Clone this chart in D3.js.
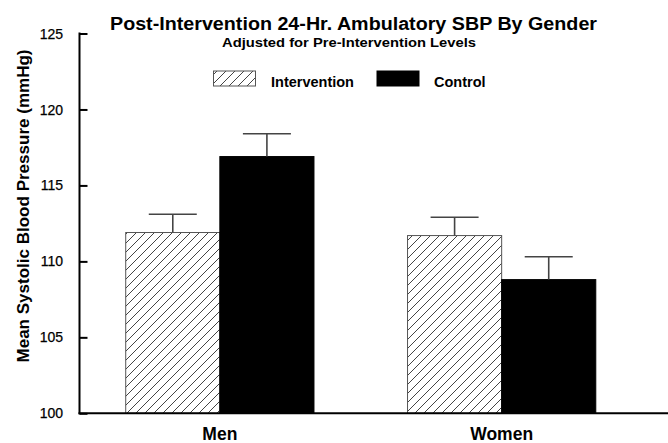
<!DOCTYPE html>
<html>
<head>
<meta charset="utf-8">
<script src="https://cdn.jsdelivr.net/npm/d3@7/dist/d3.min.js"></script>
<style>
  body { margin: 0; background: #fff; }
  svg { display: block; font-family: "Liberation Sans", Arial, Helvetica, sans-serif; }
</style>
</head>
<body>
<svg id="chart" width="668" height="443"></svg>
<script>
// ---- Data ----
const categories = ["Men", "Women"];
const seriesNames = ["Intervention", "Control"];
const interventionMeans = [111.9, 111.7];
const interventionUpper = [113.1, 112.9];
const controlMeans = [116.9, 108.8];
const controlUpper = [118.4, 110.3];
const yTicks = [100, 105, 110, 115, 120, 125];

const title = "Post-Intervention 24-Hr. Ambulatory SBP By Gender";
const subtitle = "Adjusted for Pre-Intervention Levels";
const yTitle = "Mean Systolic Blood Pressure (mmHg)";

const rows = [];
categories.forEach((c, i) => {
  rows.push({cat: c, series: "Intervention", mean: interventionMeans[i], upper: interventionUpper[i]});
  rows.push({cat: c, series: "Control", mean: controlMeans[i], upper: controlUpper[i]});
});

// ---- Layout ----
const svg = d3.select("#chart");
const axisX = 79.5, plotTop = 33.5, plotBottom = 413.3, rightEdge = 668;

const y = d3.scaleLinear().domain([100, 125]).range([plotBottom, plotTop]);
const x = d3.scaleBand().domain(categories).range([axisX, 642]).paddingInner(0.332).paddingOuter(0.164);
const xs = d3.scaleBand().domain(seriesNames).range([0, x.bandwidth()]).padding(0);

// hatch pattern
const defs = svg.append("defs");
const pat = defs.append("pattern")
  .attr("id", "hatch").attr("patternUnits", "userSpaceOnUse")
  .attr("width", 9).attr("height", 9);
pat.append("rect").attr("width", 9).attr("height", 9).attr("fill", "#fff");
pat.append("path").attr("d", "M-1,1 l2,-2 M0,9 l9,-9 M8,10 l2,-2")
  .attr("stroke", "#444").attr("stroke-width", 1);

const fillFor = s => s === "Intervention" ? "url(#hatch)" : "#000";

// bars
const g = svg.append("g");
g.selectAll("rect.bar").data(rows).join("rect")
  .attr("class", "bar")
  .attr("x", d => x(d.cat) + xs(d.series))
  .attr("y", d => y(d.mean))
  .attr("width", xs.bandwidth())
  .attr("height", d => y(100) - y(d.mean))
  .attr("fill", d => fillFor(d.series))
  .attr("stroke", d => d.series === "Intervention" ? "#555" : "#000")
  .attr("stroke-width", 1);

// error bars
const capHalf = 24;
const eb = g.selectAll("g.err").data(rows).join("g").attr("class", "err")
  .attr("stroke", "#444").attr("stroke-width", 1.6);
eb.append("line")
  .attr("x1", d => x(d.cat) + xs(d.series) + xs.bandwidth() / 2)
  .attr("x2", d => x(d.cat) + xs(d.series) + xs.bandwidth() / 2)
  .attr("y1", d => y(d.mean)).attr("y2", d => y(d.upper));
eb.append("line")
  .attr("x1", d => x(d.cat) + xs(d.series) + xs.bandwidth() / 2 - capHalf)
  .attr("x2", d => x(d.cat) + xs(d.series) + xs.bandwidth() / 2 + capHalf)
  .attr("y1", d => y(d.upper)).attr("y2", d => y(d.upper));

// y axis
const yAxis = d3.axisRight(y).tickValues(yTicks).tickSize(8).tickFormat("");
const ya = svg.append("g").attr("transform", `translate(${axisX},0)`).call(yAxis);
ya.select(".domain").remove();
ya.selectAll(".tick line").attr("stroke", "#000").attr("stroke-width", 2);
svg.append("line").attr("x1", axisX).attr("x2", axisX).attr("y1", plotTop - 1).attr("y2", plotBottom + 1)
  .attr("stroke", "#000").attr("stroke-width", 2);
svg.append("line").attr("x1", axisX - 1).attr("x2", rightEdge).attr("y1", plotBottom).attr("y2", plotBottom)
  .attr("stroke", "#000").attr("stroke-width", 2);

// y tick labels
svg.append("g").selectAll("text").data(yTicks).join("text")
  .attr("x", 63).attr("y", d => y(d)).attr("dy", "0.36em")
  .attr("text-anchor", "end").attr("font-size", 14).attr("fill", "#000")
  .attr("stroke", "#000").attr("stroke-width", 0.25)
  .text(d => d);

// category labels
svg.append("g").selectAll("text").data(categories).join("text")
  .attr("x", d => x(d) + x.bandwidth() / 2).attr("y", 439.5)
  .attr("text-anchor", "middle").attr("font-size", 17.5).attr("font-weight", "bold")
  .text(d => d);

// titles
svg.append("text").attr("x", 353.5).attr("y", 29.5).attr("text-anchor", "middle")
  .attr("font-size", 17.5).attr("font-weight", "bold")
  .attr("textLength", 487).attr("lengthAdjust", "spacingAndGlyphs").text(title);
svg.append("text").attr("x", 349).attr("y", 46.5).attr("text-anchor", "middle")
  .attr("font-size", 12.5).attr("font-weight", "bold")
  .attr("textLength", 254).attr("lengthAdjust", "spacingAndGlyphs").text(subtitle);

// y title
svg.append("text").attr("transform", "translate(28.5,206) rotate(-90)")
  .attr("text-anchor", "middle").attr("font-size", 17).attr("font-weight", "bold")
  .attr("textLength", 313).attr("lengthAdjust", "spacingAndGlyphs").text(yTitle);

// legend
const legendItems = [
  {name: seriesNames[0], boxX: 213.5, textX: 271},
  {name: seriesNames[1], boxX: 377, textX: 434}
];
const lg = svg.append("g");
lg.selectAll("rect").data(legendItems).join("rect")
  .attr("x", d => d.boxX).attr("y", 71).attr("width", 42).attr("height", 15)
  .attr("fill", d => fillFor(d.name))
  .attr("stroke", d => d.name === "Intervention" ? "#555" : "#000").attr("stroke-width", 1);
lg.selectAll("text").data(legendItems).join("text")
  .attr("x", d => d.textX).attr("y", 87.3)
  .attr("font-size", 14.5).attr("font-weight", "bold")
  .text(d => d.name);
</script>
</body>
</html>
